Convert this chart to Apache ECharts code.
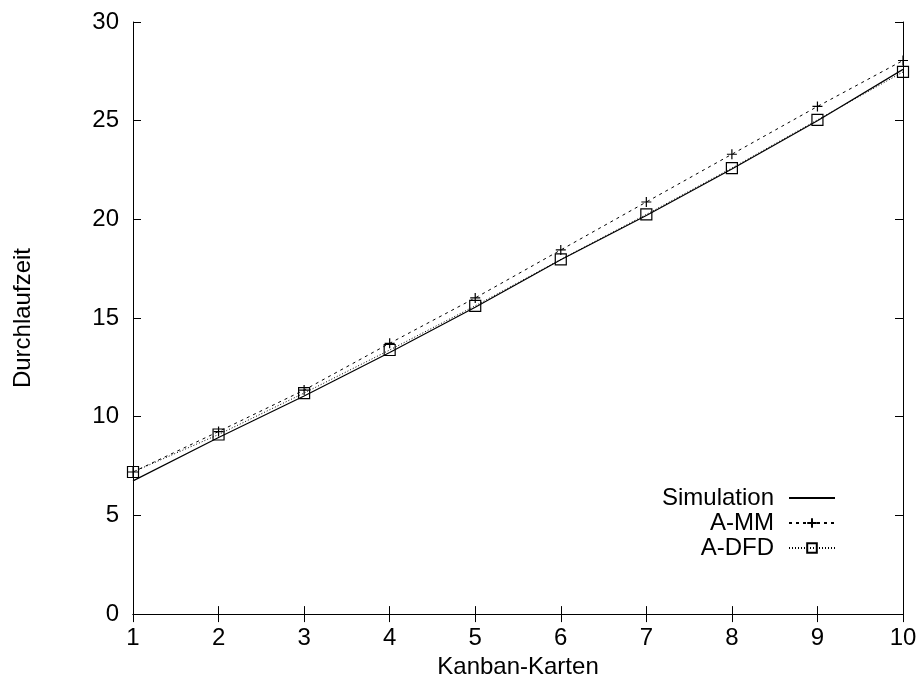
<!DOCTYPE html>
<html>
<head>
<meta charset="utf-8">
<script src="https://cdn.jsdelivr.net/npm/echarts@6/dist/echarts.min.js"></script>
<style>html,body{margin:0;padding:0;background:#fff}#c{width:922px;height:684px}</style>
</head>
<body>
<div id="c"></div>
<script>
const kanbanCards = [1, 2, 3, 4, 5, 6, 7, 8, 9, 10];
const simulation = [6.75, 8.95, 11.05, 13.25, 15.55, 17.95, 20.2, 22.55, 25.0, 27.6];
const aMM = [7.2, 9.25, 11.35, 13.72, 16.02, 18.45, 20.88, 23.3, 25.72, 28.05];
const aDFD = [7.2, 9.1, 11.2, 13.38, 15.62, 17.97, 20.25, 22.6, 25.04, 27.47];
const yTicks = [0, 5, 10, 15, 20, 25, 30];

const font = 'Liberation Sans, Arial, Helvetica, sans-serif';
const fs = 24;
const pair = (ys) => kanbanCards.map((x, i) => [x, ys[i]]);
const axisCommon = {
  axisLine: { show: true, lineStyle: { color: '#000', width: 1 } },
  axisTick: { show: true, inside: true, length: 8, lineStyle: { color: '#000', width: 1 } },
  splitLine: { show: false }
};

const chart = echarts.init(document.getElementById('c'), null, { renderer: 'canvas' });
chart.setOption({
  backgroundColor: '#fff',
  animation: false,
  grid: { left: 133, right: 19, top: 22, bottom: 67 },
  xAxis: [
    Object.assign({
      type: 'value', min: 1, max: 10, interval: 1, position: 'bottom',
      name: 'Kanban-Karten', nameLocation: 'middle', nameGap: 38,
      nameTextStyle: { fontFamily: font, fontSize: fs, color: '#000' },
      axisLabel: { fontFamily: font, fontSize: fs, color: '#000', margin: 12 }
    }, axisCommon),
    Object.assign({
      type: 'value', min: 1, max: 10, interval: 1, position: 'top',
      axisLabel: { show: false }
    }, axisCommon)
  ],
  yAxis: [
    Object.assign({
      type: 'value', min: 0, max: 30, interval: 5, position: 'left',
      name: 'Durchlaufzeit', nameLocation: 'middle', nameGap: 98, nameRotate: 90,
      nameTextStyle: { fontFamily: font, fontSize: fs, color: '#000' },
      axisLabel: { fontFamily: font, fontSize: fs, color: '#000', margin: 14,
        formatter: (v) => yTicks.includes(v) ? String(v) : '' }
    }, axisCommon),
    Object.assign({
      type: 'value', min: 0, max: 30, interval: 5, position: 'right',
      axisLabel: { show: false }
    }, axisCommon)
  ],
  legend: {
    orient: 'vertical', align: 'right', right: 86, top: 486, padding: 0,
    itemWidth: 46, itemHeight: 12, itemGap: 1,
    textStyle: { fontFamily: font, fontSize: fs, color: '#000', lineHeight: 24, padding: [0, 10, 0, 0] },
    data: [
      { name: 'Simulation', itemStyle: { color: 'transparent', borderColor: 'transparent', borderWidth: 0 } },
      'A-MM', 'A-DFD'
    ]
  },
  series: [
    {
      name: 'Simulation', type: 'line', data: pair(simulation),
      symbol: 'none',
      lineStyle: { color: '#000', width: 1.2, type: 'solid' },
      itemStyle: { color: '#000' }
    },
    {
      name: 'A-MM', type: 'line', data: pair(aMM),
      symbol: 'path://M0,5L10,5M5,0L5,10', symbolSize: 10,
      lineStyle: { color: '#000', width: 1, type: [3, 4] },
      itemStyle: { color: 'transparent', borderColor: '#000', borderWidth: 1.2 }
    },
    {
      name: 'A-DFD', type: 'line', data: pair(aDFD),
      symbol: 'rect', symbolSize: 11,
      lineStyle: { color: '#000', width: 1, type: [1, 2] },
      itemStyle: { color: 'transparent', borderColor: '#000', borderWidth: 1.2 }
    }
  ]
});
</script>
</body>
</html>
